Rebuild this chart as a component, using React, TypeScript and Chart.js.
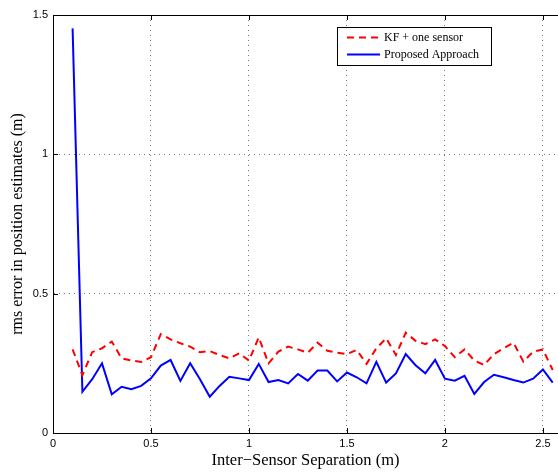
import React, { useEffect, useRef } from "react";
import { Chart, registerables } from "chart.js";

Chart.register(...registerables);

const separations = [
  0.1, 0.15, 0.2, 0.25, 0.3, 0.35, 0.4, 0.45, 0.5, 0.55,
  0.6, 0.65, 0.7, 0.75, 0.8, 0.85, 0.9, 0.95, 1.0, 1.05,
  1.1, 1.15, 1.2, 1.25, 1.3, 1.35, 1.4, 1.45, 1.5, 1.55,
  1.6, 1.65, 1.7, 1.75, 1.8, 1.85, 1.9, 1.95, 2.0, 2.05,
  2.1, 2.15, 2.2, 2.25, 2.3, 2.35, 2.4, 2.45, 2.5, 2.55,
];

const kfOneSensor = [
  0.3, 0.208, 0.29, 0.304, 0.328, 0.268, 0.26, 0.255, 0.272, 0.355,
  0.336, 0.322, 0.31, 0.29, 0.294, 0.28, 0.268, 0.286, 0.26, 0.343,
  0.25, 0.292, 0.31, 0.3, 0.288, 0.324, 0.295, 0.288, 0.283, 0.298,
  0.248, 0.304, 0.34, 0.28, 0.36, 0.331, 0.319, 0.336, 0.312, 0.272,
  0.3, 0.26, 0.244, 0.283, 0.304, 0.324, 0.256, 0.292, 0.3, 0.226,
];

const proposedApproach = [
  1.452, 0.148, 0.193, 0.25, 0.139, 0.166, 0.157, 0.169, 0.196, 0.242,
  0.262, 0.187, 0.25, 0.193, 0.13, 0.169, 0.202, 0.196, 0.19, 0.248,
  0.183, 0.19, 0.178, 0.212, 0.188, 0.224, 0.224, 0.185, 0.217, 0.2,
  0.178, 0.255, 0.181, 0.214, 0.283, 0.243, 0.214, 0.262, 0.195, 0.188,
  0.205, 0.14, 0.183, 0.209, 0.2, 0.19, 0.181, 0.195, 0.228, 0.181,
];

const xTickValues = [0, 0.5, 1, 1.5, 2, 2.5];
const yTickValues = [0, 0.5, 1, 1.5];
const seriesNames = ["KF + one sensor", "Proposed Approach"];

const SANS = "'Liberation Sans', Arial, sans-serif";
const SERIF = "'Liberation Serif', 'Times New Roman', serif";

const framePlugin = {
  id: "matlabFrame",
  afterDraw(chart: any) {
    const { ctx, chartArea, scales } = chart;
    const { left, right, top, bottom } = chartArea;
    ctx.save();
    ctx.strokeStyle = "#000";
    ctx.lineWidth = 1;
    ctx.setLineDash([]);
    // top border
    ctx.beginPath();
    ctx.moveTo(left, top + 0.5);
    ctx.lineTo(right, top + 0.5);
    ctx.stroke();
    // inward tick marks
    const tl = 5;
    ctx.beginPath();
    for (const v of xTickValues) {
      const px = Math.round(scales.x.getPixelForValue(v)) + 0.5;
      ctx.moveTo(px, bottom);
      ctx.lineTo(px, bottom - tl);
      ctx.moveTo(px, top);
      ctx.lineTo(px, top + tl);
    }
    for (const v of yTickValues) {
      const py = Math.round(scales.y.getPixelForValue(v)) + 0.5;
      ctx.moveTo(left, py);
      ctx.lineTo(left + tl, py);
    }
    ctx.stroke();

    // legend
    const bx = 337, by = 27, bw = 154, bh = 38;
    ctx.fillStyle = "#fff";
    ctx.fillRect(bx, by, bw, bh);
    ctx.strokeStyle = "#000";
    ctx.lineWidth = 1;
    ctx.strokeRect(bx + 0.5, by + 0.5, bw, bh);
    const rows = [
      { y: by + 10.5, ds: chart.data.datasets[0] },
      { y: by + 27.5, ds: chart.data.datasets[1] },
    ];
    ctx.font = "12px " + SERIF;
    ctx.textBaseline = "middle";
    ctx.textAlign = "left";
    for (const r of rows) {
      ctx.save();
      ctx.strokeStyle = r.ds.borderColor;
      ctx.lineWidth = 2;
      ctx.setLineDash(r.ds.borderDash || []);
      ctx.beginPath();
      ctx.moveTo(347, r.y);
      ctx.lineTo(380, r.y);
      ctx.stroke();
      ctx.restore();
      ctx.fillStyle = "#000";
      ctx.fillText(r.ds.label, 384, r.y);
    }
    ctx.restore();
  },
};

export default function App() {
  const canvasRef = useRef<HTMLCanvasElement | null>(null);

  useEffect(() => {
    document.body.style.margin = "0";
    const canvas = canvasRef.current;
    if (!canvas) return;
    const chart = new Chart(canvas, {
      type: "line",
      data: {
        datasets: [
          {
            label: seriesNames[0],
            data: separations.map((x, i) => ({ x, y: kfOneSensor[i] })),
            borderColor: "#ff0000",
            borderWidth: 2,
            borderDash: [7, 5],
            pointRadius: 0,
            fill: false,
            tension: 0,
          },
          {
            label: seriesNames[1],
            data: separations.map((x, i) => ({ x, y: proposedApproach[i] })),
            borderColor: "#0000ff",
            borderWidth: 2,
            pointRadius: 0,
            fill: false,
            tension: 0,
          },
        ],
      },
      options: {
        responsive: false,
        animation: false,
        devicePixelRatio: 1,
        layout: { padding: { top: 15, right: 0, left: 0, bottom: 0 } },
        plugins: {
          legend: { display: false },
          tooltip: { enabled: false },
        },
        scales: {
          x: {
            type: "linear",
            min: 0,
            max: 2.577,
            afterBuildTicks: (scale: any) => {
              scale.ticks = xTickValues.map((v) => ({ value: v }));
            },
            afterFit: (scale: any) => {
              scale.height = 40;
            },
            grid: {
              color: "#777",
              lineWidth: 1,
              drawTicks: false,
            },
            border: { display: true, color: "#000", width: 1, dash: [1, 4] },
            ticks: {
              color: "#000",
              font: { family: SANS, size: 11 },
              padding: 4,
              maxRotation: 0,
              autoSkip: false,
              callback: (v: any) => String(v),
            },
            title: {
              display: true,
              text: "Inter\u2212Sensor Separation (m)",
              color: "#000",
              font: { family: SERIF, size: 16.5 },
              padding: { top: 0, bottom: 2 },
            },
          },
          y: {
            type: "linear",
            min: 0,
            max: 1.5,
            afterBuildTicks: (scale: any) => {
              scale.ticks = yTickValues.map((v) => ({ value: v }));
            },
            afterFit: (scale: any) => {
              scale.width = 53;
            },
            grid: {
              color: "#777",
              lineWidth: 1,
              drawTicks: false,
            },
            border: { display: true, color: "#000", width: 1, dash: [1, 4] },
            ticks: {
              color: "#000",
              font: { family: SANS, size: 11 },
              padding: 5,
              callback: (v: any) => String(v),
            },
            title: {
              display: true,
              text: "rms error in position estimates (m)",
              color: "#000",
              font: { family: SERIF, size: 16 },
              padding: { top: 8, bottom: 0 },
            },
          },
        },
      },
      plugins: [framePlugin],
    });
    return () => chart.destroy();
  }, []);

  return (
    <div style={{ position: "absolute", left: 0, top: 0, width: 558, height: 473, background: "#fff" }}>
      <canvas ref={canvasRef} width={558} height={473} style={{ width: 558, height: 473, display: "block" }} />
    </div>
  );
}
